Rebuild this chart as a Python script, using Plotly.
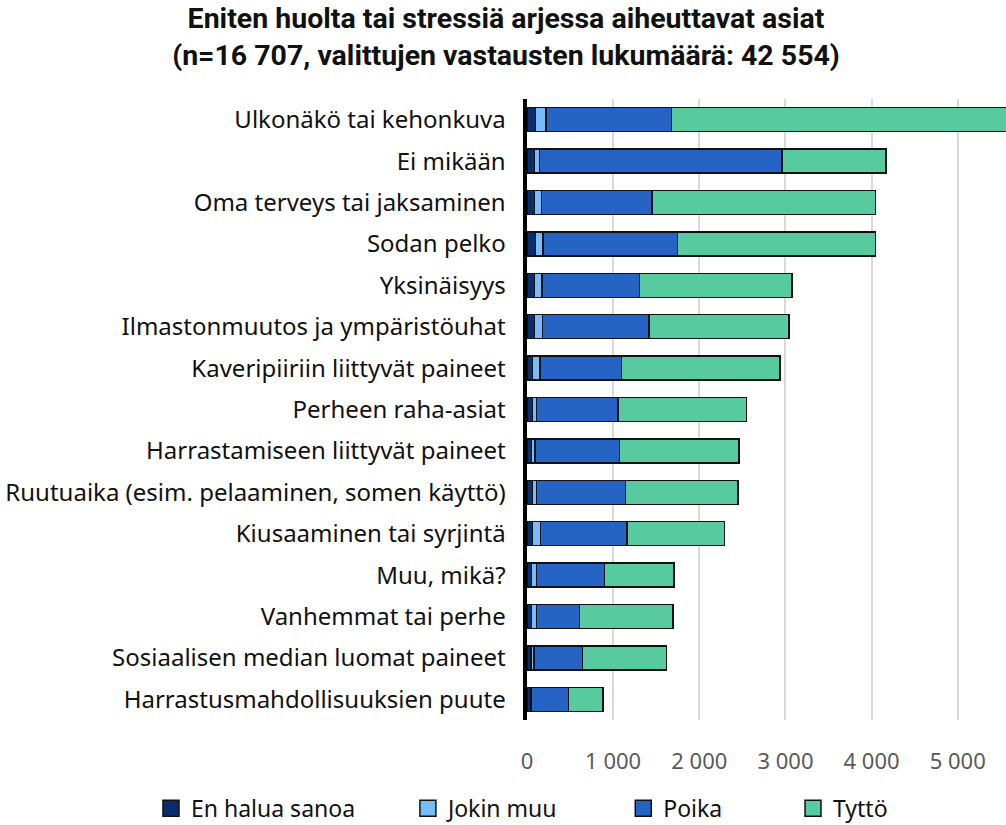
import plotly.graph_objects as go

# Data
categories = [
    "Ulkonäkö tai kehonkuva",
    "Ei mikään",
    "Oma terveys tai jaksaminen",
    "Sodan pelko",
    "Yksinäisyys",
    "Ilmastonmuutos ja ympäristöuhat",
    "Kaveripiiriin liittyvät paineet",
    "Perheen raha-asiat",
    "Harrastamiseen liittyvät paineet",
    "Ruutuaika (esim. pelaaminen, somen käyttö)",
    "Kiusaaminen tai syrjintä",
    "Muu, mikä?",
    "Vanhemmat tai perhe",
    "Sosiaalisen median luomat paineet",
    "Harrastusmahdollisuuksien puute",
]
en_halua_sanoa = [100, 89, 89, 100, 89, 89, 66, 62, 54, 62, 66, 50, 50, 46, 43]
jokin_muu = [120, 58, 81, 86, 85, 93, 85, 50, 39, 50, 89, 58, 62, 35, 7]
poika = [1459, 2811, 1280, 1558, 1133, 1233, 947, 944, 978, 1033, 1005, 793, 499, 561, 434]
tytto = [3901, 1210, 2595, 2301, 1771, 1625, 1841, 1493, 1392, 1303, 1133, 804, 1086, 978, 398]

tick_vals = [0, 1000, 2000, 3000, 4000, 5000]
tick_text = ["0", "1 000", "2 000", "3 000", "4 000", "5 000"]

series = [
    ("En halua sanoa", en_halua_sanoa, "#0b2d6c"),
    ("Jokin muu", jokin_muu, "#76bcfb"),
    ("Poika", poika, "#2563c4"),
    ("Tyttö", tytto, "#57ca9f"),
]
# extra spacing after each legend entry (non-breaking spaces)
legend_pad = [8, 10, 11, 0]

fig = go.Figure()
for name, vals, color in series:
    fig.add_trace(go.Bar(
        y=categories, x=vals, name=name, orientation="h", showlegend=False,
        marker=dict(color=color, line=dict(color="#111111", width=1.5)),
    ))
# legend-only entries so the swatches can be bigger squares
for (name, vals, color), pad in zip(series, legend_pad):
    fig.add_trace(go.Scatter(
        x=[None], y=[None], mode="markers", name=name + "\u00a0" * pad,
        marker=dict(symbol="square", size=22, color=color, line=dict(color="#111111", width=1.5)),
    ))

label_font = "Noto Sans, Open Sans, sans-serif"
title_font = "Roboto, sans-serif"

fig.update_layout(
    barmode="stack",
    bargap=0.42,
    width=1006, height=825,
    margin=dict(l=527, r=0, t=99, b=105, autoexpand=False),
    paper_bgcolor="white", plot_bgcolor="white",
    font=dict(family=label_font, size=24, color="#111111"),
    title=dict(
        text="<b>Eniten huolta tai stressiä arjessa aiheuttavat asiat<br>(n=16 707, valittujen vastausten lukumäärä: 42 554)</b>",
        x=0.503, xanchor="center", y=0.966, yanchor="middle",
        font=dict(family=title_font, size=28.5, color="#111111"),
    ),
    xaxis=dict(
        range=[0, 5560], tickvals=tick_vals, ticktext=tick_text,
        showgrid=True, gridcolor="#d9d9d9", gridwidth=2,
        zeroline=False, showline=False,
        ticks="outside", ticklen=22, tickcolor="rgba(0,0,0,0)",
        tickfont=dict(size=22, color="#595959"),
    ),
    yaxis=dict(
        autorange="reversed", showline=True, linecolor="black", linewidth=4,
        ticks="", tickfont=dict(size=24, color="#111111"), ticksuffix="  ",
    ),
    legend=dict(
        orientation="h", x=-0.785, xanchor="left",
        y=-0.142, yanchor="middle",
        font=dict(size=23), traceorder="normal", itemwidth=30,
    ),
)

fig.write_html("out.html", post_script="document.body.style.margin='0px';",
               config={"displayModeBar": False})
